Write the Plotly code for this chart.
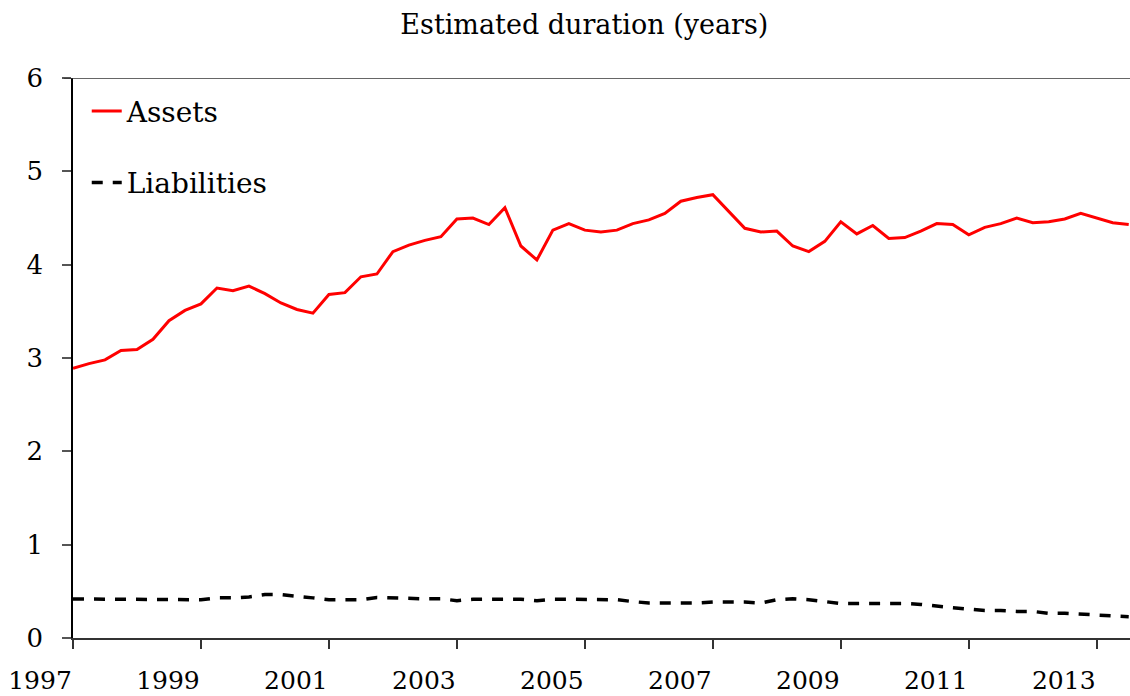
import plotly.graph_objects as go

quarters = [1997 + 0.25 * i for i in range(67)]

assets = [2.89, 2.94, 2.98, 3.08, 3.09, 3.20, 3.40, 3.51, 3.58, 3.75,
          3.72, 3.77, 3.69, 3.59, 3.52, 3.48, 3.68, 3.70, 3.87, 3.90,
          4.14, 4.21, 4.26, 4.30, 4.49, 4.50, 4.43, 4.61, 4.20, 4.05,
          4.37, 4.44, 4.37, 4.35, 4.37, 4.44, 4.48, 4.55, 4.68, 4.72,
          4.75, 4.57, 4.39, 4.35, 4.36, 4.20, 4.14, 4.25, 4.46, 4.33,
          4.42, 4.28, 4.29, 4.36, 4.44, 4.43, 4.32, 4.40, 4.44, 4.50,
          4.45, 4.46, 4.49, 4.55, 4.50, 4.45, 4.43]

liabilities = [0.418, 0.418, 0.418, 0.418, 0.418, 0.418, 0.418, 0.41, 0.41, 0.43,
               0.43, 0.44, 0.465, 0.465, 0.45, 0.43, 0.41, 0.41, 0.41, 0.435,
               0.43, 0.42, 0.42, 0.42, 0.40, 0.415, 0.415, 0.415, 0.415, 0.40,
               0.415, 0.415, 0.415, 0.415, 0.41, 0.39, 0.375, 0.375, 0.375, 0.375,
               0.385, 0.385, 0.385, 0.375, 0.41, 0.42, 0.41, 0.39, 0.37, 0.37,
               0.37, 0.37, 0.37, 0.36, 0.34, 0.325, 0.31, 0.295, 0.295, 0.285,
               0.285, 0.265, 0.265, 0.255, 0.245, 0.235, 0.228]

x_ticks = [1997, 1999, 2001, 2003, 2005, 2007, 2009, 2011, 2013]
y_ticks = [0, 1, 2, 3, 4, 5, 6]

FONT = "DejaVu Serif"

fig = go.Figure()
fig.add_trace(go.Scatter(x=quarters, y=assets, mode="lines", name="Assets",
                         legendgroup="a",
                         line=dict(color="#ff0000", width=3)))
fig.add_trace(go.Scatter(x=quarters, y=liabilities, mode="lines", name="Liabilities",
                         legendgroup="b",
                         line=dict(color="#000000", width=3.5, dash="11px,10px")))

fig.add_shape(type="line", xref="paper", yref="y", x0=-0.0085, x1=1, y0=6, y1=6,
              line=dict(color="#333333", width=1.5), layer="above")

fig.update_layout(
    width=1130, height=696,
    margin=dict(l=73, r=0, t=78, b=58),
    paper_bgcolor="white", plot_bgcolor="white",
    font=dict(family=FONT, color="#000000", size=25),
    title=dict(text="Estimated duration (years)", x=0.5171, xanchor="center",
               y=0.965, yanchor="middle", font=dict(family=FONT, size=27)),
    showlegend=True,
    legend=dict(x=0.013, y=0.985, xanchor="left", yanchor="top",
                bgcolor="rgba(0,0,0,0)", font=dict(family=FONT, size=28),
                tracegroupgap=32),
    xaxis=dict(range=[1997, 2013.52], tickvals=x_ticks,
               ticktext=[str(v) for v in x_ticks],
               showgrid=False, zeroline=False, showline=True,
               linecolor="#333333", linewidth=1.5,
               ticks="outside", ticklen=9, tickcolor="#333333", tickwidth=1.5,
               ticklabelshift=-33, ticklabelstandoff=10,
               tickfont=dict(family=FONT, size=25)),
    yaxis=dict(range=[0, 6], tickvals=y_ticks, showgrid=False, zeroline=False,
               showline=True, linecolor="#000000", linewidth=1.5,
               ticks="outside", ticklen=9, tickcolor="#555555", tickwidth=1.5,
               ticklabelstandoff=14,
               tickfont=dict(family=FONT, size=26)),
)

fig.write_html("out.html", config={"displayModeBar": False},
               post_script="document.body.style.margin='0px';document.body.style.padding='0px';")
